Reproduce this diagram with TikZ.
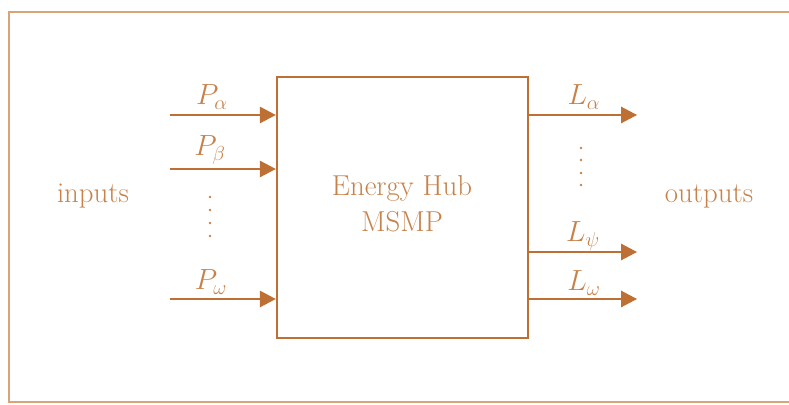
\documentclass[tikz,border=0pt]{standalone}
\usepackage{xcolor}
\usepackage{amsmath}
\usepackage{tikz}
\usetikzlibrary{arrows.meta, positioning, calc}
\definecolor{hubbrown}{RGB}{190,112,52}
\definecolor{hubtext}{RGB}{198,130,74}
\definecolor{framebrown}{RGB}{216,164,122}
\tikzset{
  hub/.style={rectangle, draw=hubbrown, line width=1.5pt,
    minimum width=6.275cm, minimum height=6.525cm, inner sep=0pt},
  flow/.style={-{Triangle[length=0.4cm, width=0.4cm]}, draw=hubbrown,
    fill=hubbrown, line width=1.9pt},
  lbl/.style={text=hubtext, font=\fontsize{20.5}{24}\selectfont, inner sep=0pt},
  dot/.style={fill=hubtext}
}

\begin{document}
\begin{tikzpicture}[x=0.025cm, y=-0.025cm]
  \useasboundingbox (0,0) rectangle (789,405);
  % Outer frame
  \draw[framebrown, line width=2pt] (789,12) -- (9,12) -- (9,402) -- (789,402);

  % Hub
  \node[hub] (hub) at (402.5,207.5) {};
  \node[lbl] (name) at (402,188) {Energy Hub};
  \node[lbl] (model) at (402,222) {MSMP};

  % Inputs
  \coordinate (pa) at (170,115);
  \coordinate (pb) at (170,169);
  \coordinate (pw) at (170,299);
  \draw[flow] (pa) -- (pa -| hub.west);
  \draw[flow] (pb) -- (pb -| hub.west);
  \draw[flow] (pw) -- (pw -| hub.west);
  \node[lbl] (lpa) at (212,97) {$P_\alpha$};
  \node[lbl] (lpb) at (210,150) {$P_\beta$};
  \node[lbl] (lpw) at (211,282) {$P_\omega$};
  \foreach \y in {197,210,223,236}
    \fill[dot] (210,\y) circle (1.3);
  \node[lbl] (inputs) at (93,196) {inputs};

  % Outputs
  \coordinate (la) at (hub.east |- pa);
  \coordinate (lp) at ($(hub.east)+(0,44.5)$);
  \coordinate (lw) at (hub.east |- pw);
  \draw[flow] (la) -- ++(108,0) coordinate (la2);
  \draw[flow] (lp) -- ++(108,0) coordinate (lp2);
  \draw[flow] (lw) -- ++(108,0) coordinate (lw2);
  \node[lbl] (lla) at (584,97) {$L_\alpha$};
  \node[lbl] (llp) at (583,236) {$L_\psi$};
  \node[lbl] (llw) at (584,283) {$L_\omega$};
  \foreach \y in {148,160,173,185}
    \fill[dot] (581,\y) circle (1.3);
  \node[lbl] (outputs) at (709,196) {outputs};
\end{tikzpicture}
\end{document}
